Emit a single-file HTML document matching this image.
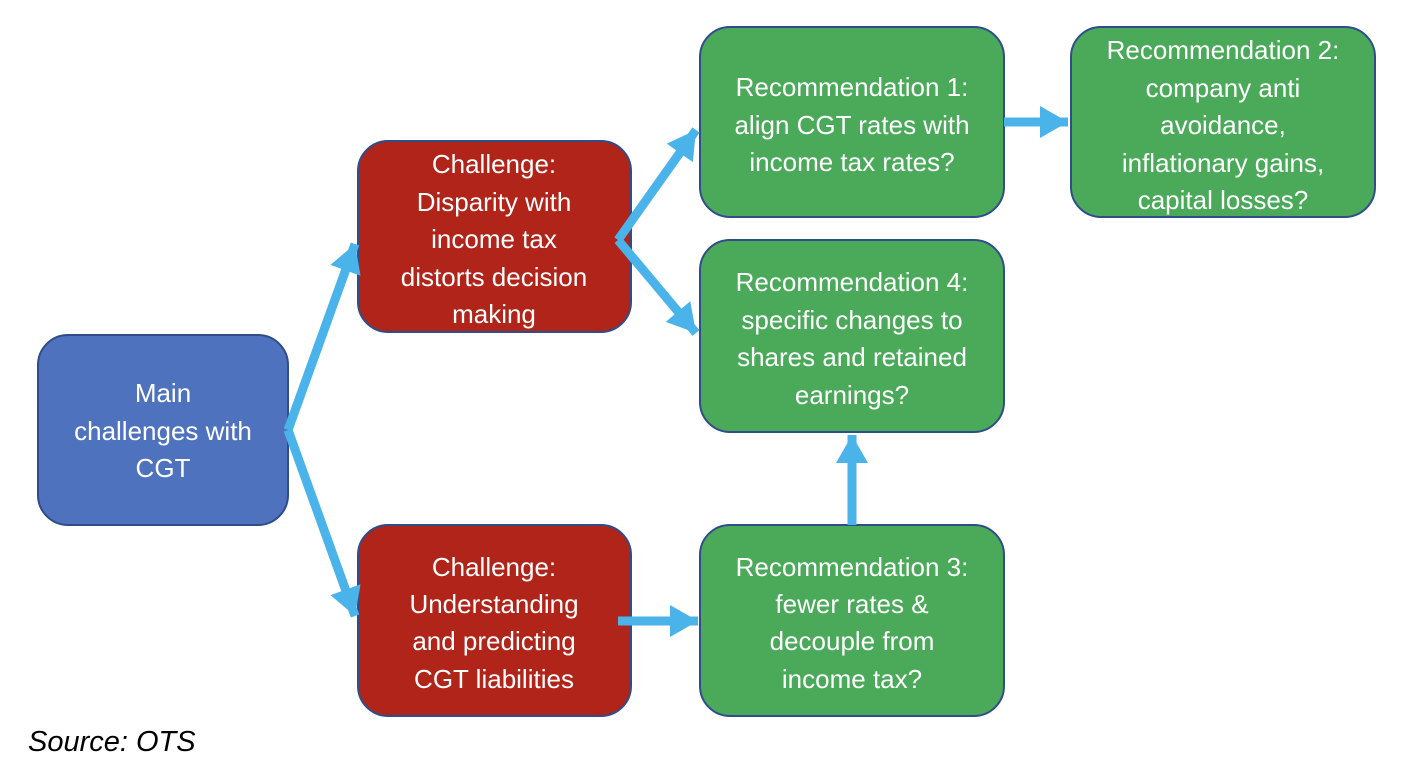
<!DOCTYPE html>
<html><head><style>body{margin:0;background:#fff}</style></head><body>
<svg width="1408" height="770" xmlns="http://www.w3.org/2000/svg" font-family="Liberation Sans, sans-serif">
<defs><marker id="a" markerUnits="userSpaceOnUse" markerWidth="40" markerHeight="40" refX="28" refY="16" orient="auto" overflow="visible"><path d="M0,0 L28,16 L0,32 Z" fill="#4ab3ea"/></marker></defs>
<g stroke="#2f4d8a" stroke-width="2">
<rect x="38" y="335" width="250" height="190" rx="30" fill="#4f72bf"/>
<rect x="358" y="141" width="273" height="191" rx="30" fill="#b0241a"/>
<rect x="358" y="525" width="273" height="191" rx="30" fill="#b0241a"/>
<rect x="700" y="27" width="304" height="190" rx="30" fill="#4aaa5a"/>
<rect x="1071" y="27" width="304" height="190" rx="30" fill="#4aaa5a"/>
<rect x="700" y="240" width="304" height="192" rx="30" fill="#4aaa5a"/>
<rect x="700" y="525" width="304" height="191" rx="30" fill="#4aaa5a"/>
</g>
<g stroke="#4ab3ea" stroke-width="9" fill="none" marker-end="url(#a)">
<path d="M288,430 L355,244"/>
<path d="M288,430 L355,616"/>
<path d="M618,240 L696,130"/>
<path d="M618,240 L696,333"/>
<path d="M618,621 L698,621"/>
<path d="M1004,122 L1068,122"/>
<path d="M852,525 L852,435"/>
</g>
<g fill="#fff" font-size="26" text-anchor="middle">
<text x="163" y="402">Main</text><text x="163" y="440">challenges with</text><text x="163" y="477">CGT</text>
<text x="494" y="173">Challenge:</text><text x="494" y="211">Disparity with</text><text x="494" y="248">income tax</text><text x="494" y="286">distorts decision</text><text x="494" y="323">making</text>
<text x="494" y="576">Challenge:</text><text x="494" y="613">Understanding</text><text x="494" y="650">and predicting</text><text x="494" y="688">CGT liabilities</text>
<text x="852" y="96">Recommendation 1:</text><text x="852" y="134">align CGT rates with</text><text x="852" y="171">income tax rates?</text>
<text x="1223" y="59">Recommendation 2:</text><text x="1223" y="97">company anti</text><text x="1223" y="134">avoidance,</text><text x="1223" y="172">inflationary gains,</text><text x="1223" y="209">capital losses?</text>
<text x="852" y="291">Recommendation 4:</text><text x="852" y="329">specific changes to</text><text x="852" y="366">shares and retained</text><text x="852" y="404">earnings?</text>
<text x="852" y="576">Recommendation 3:</text><text x="852" y="613">fewer rates &amp;</text><text x="852" y="650">decouple from</text><text x="852" y="688">income tax?</text>
</g>
<text x="28" y="751" font-size="29" font-style="italic" fill="#000">Source:  OTS</text>
</svg>
</body></html>
